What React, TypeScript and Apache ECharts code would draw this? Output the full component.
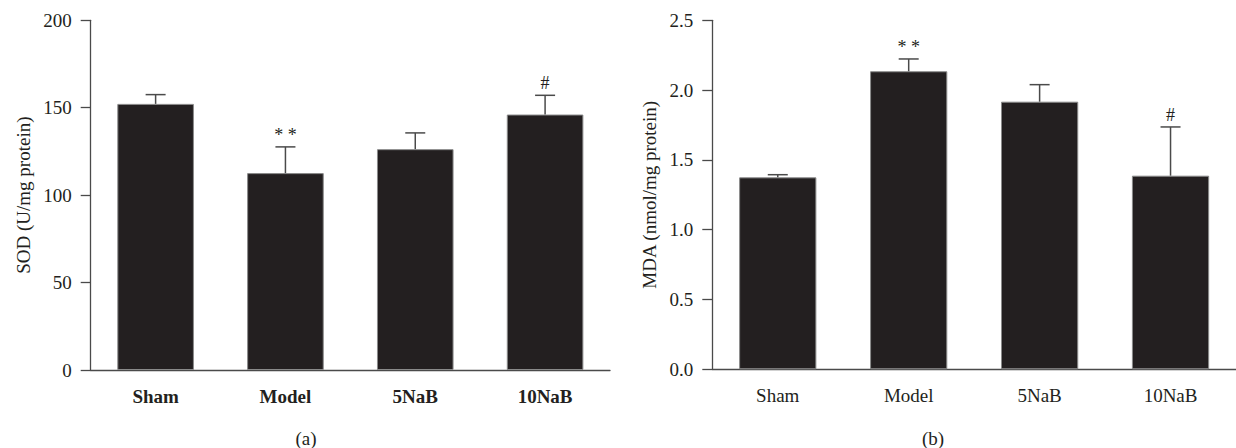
import React, { useEffect, useRef } from "react";
import * as echarts from "echarts";

const categories = ["Sham", "Model", "5NaB", "10NaB"];
const sodMean = [152.2, 112.6, 126.3, 146.1];
const sodSd = [5.3, 15.0, 9.3, 11.0];
const sodSig = ["", "* *", "", "#"];
const mdaMean = [1.375, 2.135, 1.917, 1.387];
const mdaSd = [0.019, 0.088, 0.122, 0.349];
const mdaSig = ["", "* *", "", "#"];
const panelLabels = ["(a)", "(b)"];

const FONT = '"Liberation Serif", "Times New Roman", serif';
const TEXT = "#231f20";
const AXIS = "#4a4a4a";
const FS = 19;

function errData(mean: number[], sd: number[], sig: string[]) {
  return mean.map((m, i) => [i, m, m + sd[i]]);
}

function sigFor(seriesIndex: number, dataIndex: number) {
  return seriesIndex === 1 ? sodSig[dataIndex] : mdaSig[dataIndex];
}

function errRender(params: any, api: any) {
  const i = api.value(0);
  const base = api.coord([i, api.value(1)]);
  const top = api.coord([i, api.value(2)]);
  const sig = sigFor(params.seriesIndex, params.dataIndex);
  const children: any[] = [
    { type: "line", shape: { x1: base[0], y1: base[1], x2: top[0], y2: top[1] }, style: { stroke: AXIS, lineWidth: 1.5 } },
    { type: "line", shape: { x1: top[0] - 10, y1: top[1], x2: top[0] + 10, y2: top[1] }, style: { stroke: AXIS, lineWidth: 1.5 } },
  ];
  if (sig) {
    children.push({
      type: "text",
      x: top[0],
      y: top[1] - 12,
      style: { text: sig, fontFamily: FONT, fontSize: 18, fill: TEXT, align: "center", verticalAlign: "middle" },
    });
  }
  return { type: "group", children };
}

function makeAxes(gridIndex: number, name: string, min: number, max: number, interval: number, bold: boolean, nameGap: number, fmt: (v: number) => string) {
  const x = {
    type: "category",
    gridIndex,
    data: categories,
    axisLine: { lineStyle: { color: AXIS, width: 1.3 } },
    axisTick: { alignWithLabel: true, length: 10, lineStyle: { color: AXIS, width: 1.3 } },
    axisLabel: { color: TEXT, fontFamily: FONT, fontSize: FS, fontWeight: bold ? "bold" : "normal", margin: 17 },
  };
  const y = {
    type: "value",
    gridIndex,
    min,
    max,
    interval,
    name,
    nameLocation: "middle",
    nameGap,
    nameTextStyle: { color: TEXT, fontFamily: FONT, fontSize: FS },
    axisLine: { show: true, lineStyle: { color: AXIS, width: 1.3 } },
    axisTick: { show: true, length: 10, lineStyle: { color: AXIS, width: 1.3 } },
    axisLabel: { color: TEXT, fontFamily: FONT, fontSize: FS, margin: 19, formatter: fmt },
    splitLine: { show: false },
  };
  return { x, y };
}

export default function App() {
  const ref = useRef<HTMLDivElement>(null);
  useEffect(() => {
    if (!ref.current) return;
    const chart = echarts.init(ref.current, null, { renderer: "svg" });
    const a = makeAxes(0, "SOD (U/mg protein)", 0, 200, 50, true, 58, (v) => String(v));
    const b = makeAxes(1, "MDA (nmol/mg protein)", 0, 2.5, 0.5, false, 53, (v) => v.toFixed(1));
    const barStyle = { color: "#231f20", borderColor: "#8a8a8a", borderWidth: 1 };
    chart.setOption({
      animation: false,
      backgroundColor: "#ffffff",
      grid: [
        { left: 90.7, top: 20.3, width: 519.3, height: 349.7 },
        { left: 712.3, top: 20.3, width: 524, height: 349 },
      ],
      xAxis: [a.x, b.x],
      yAxis: [a.y, b.y],
      graphic: [
        { type: "text", x: 306, y: 438, style: { text: panelLabels[0], fontFamily: FONT, fontSize: FS, fill: TEXT, align: "center", verticalAlign: "middle" } },
        { type: "text", x: 933, y: 438, style: { text: panelLabels[1], fontFamily: FONT, fontSize: FS, fill: TEXT, align: "center", verticalAlign: "middle" } },
      ],
      series: [
        { type: "bar", xAxisIndex: 0, yAxisIndex: 0, data: sodMean, barWidth: "59%", itemStyle: barStyle },
        { type: "custom", xAxisIndex: 0, yAxisIndex: 0, data: errData(sodMean, sodSd, sodSig), renderItem: errRender, z: 5 },
        { type: "bar", xAxisIndex: 1, yAxisIndex: 1, data: mdaMean, barWidth: "59%", itemStyle: barStyle },
        { type: "custom", xAxisIndex: 1, yAxisIndex: 1, data: errData(mdaMean, mdaSd, mdaSig), renderItem: errRender, z: 5 },
      ],
    });
    return () => chart.dispose();
  }, []);
  return <div ref={ref} style={{ position: "fixed", left: 0, top: 0, width: 1236, height: 448 }} />;
}
